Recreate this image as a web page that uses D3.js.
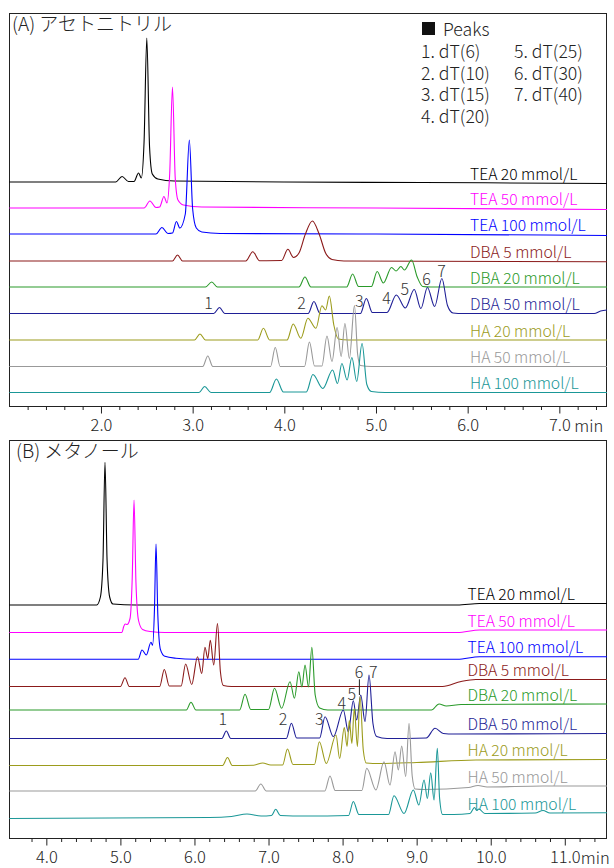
<!DOCTYPE html>
<html>
<head>
<meta charset="utf-8">
<script src="https://cdn.jsdelivr.net/npm/d3@7"></script>
<style>
  body { margin: 0; background: #fff; }
  text { font-family: "Noto Sans CJK JP", "Noto Sans", sans-serif; font-weight: 300; }
</style>
</head>
<body>
<div id="chart"></div>
<script>
// Chromatogram traces: [time (min), signal above own baseline]
// (A) acetonitrile
const aTEA20 = [[1.0,0],[2.16,0],[2.23,5.5],[2.3,0.5],[2.36,0.5],[2.41,9],[2.44,4],[2.47,40],[2.50,144],[2.53,35],[2.56,8],[2.62,3],[2.8,1],[4.0,0],[5.5,-0.5],[7.52,-1.5]];
const aTEA50 = [[1.0,0],[2.47,0],[2.534,7],[2.6,0.5],[2.64,1],[2.687,11.5],[2.72,5],[2.75,35],[2.78,121],[2.81,30],[2.84,8],[2.9,3],[3.1,1],[5.0,0],[7.52,-1.5]];
const aTEA100 = [[1.0,0],[2.6,0],[2.665,6.5],[2.73,0.5],[2.78,1],[2.823,12.5],[2.86,6],[2.92,20],[2.964,94],[3.0,25],[3.04,6],[3.1,2],[3.3,0.5],[5.0,0],[7.52,-1.5]];
const aDBA5 = [[1.0,0],[2.78,0],[2.835,6],[2.89,0],[3.58,0],[3.656,9.3],[3.73,0.3],[3.97,0.5],[4.039,11.7],[4.1,3.5],[4.16,8],[4.23,27],[4.306,40],[4.38,27],[4.45,8],[4.52,1.5],[4.65,0],[7.52,-0.7]];
const aDBA20 = [[1.0,0],[3.14,0],[3.208,5],[3.27,0],[4.16,0],[4.225,10],[4.29,0],[4.68,0],[4.745,13],[4.81,0.5],[4.95,0.5],[5.013,15.5],[5.08,4],[5.17,19.5],[5.22,16],[5.272,20.5],[5.31,17],[5.388,27],[5.45,10],[5.51,0.5],[5.6,0],[7.52,0]];
const aDBA50 = [[1.0,0],[3.23,0],[3.293,6],[3.35,0],[4.26,0],[4.323,12],[4.39,0],[4.83,0],[4.895,15],[4.96,1],[5.12,1],[5.222,18.5],[5.32,5.5],[5.417,24],[5.49,5],[5.561,26],[5.64,7],[5.719,35],[5.78,8],[5.84,0.5],[5.95,0],[7.38,0],[7.45,2.5],[7.52,3.5]];
const aHA20 = [[1.0,0],[3.02,0],[3.08,6],[3.14,0],[3.71,0],[3.772,11.7],[3.84,0],[4.03,0],[4.097,16],[4.18,1.7],[4.257,21.7],[4.345,11.7],[4.41,34.3],[4.45,30],[4.491,44],[4.54,15],[4.59,1],[4.7,0],[7.52,0]];
const aHA50 = [[1.0,0],[3.11,0],[3.165,10.5],[3.22,0],[3.85,0],[3.901,19],[3.955,0],[4.22,0],[4.274,24.5],[4.33,0.5],[4.41,0.5],[4.465,30.5],[4.52,5],[4.576,39],[4.62,10],[4.661,43],[4.71,8],[4.765,61],[4.8,12],[4.83,1],[4.95,0],[7.52,0]];
const aHA100 = [[1.0,0],[3.07,0],[3.131,6],[3.2,0],[3.84,0],[3.914,13.5],[3.99,0.5],[4.24,0.5],[4.312,18],[4.42,4],[4.527,22.5],[4.58,9],[4.628,29],[4.685,12.5],[4.737,35],[4.79,11],[4.848,49],[4.9,8],[4.95,1],[5.1,0],[7.52,0]];

// (B) methanol
const bTEA20 = [[3.5,0],[4.68,0],[4.73,8],[4.765,45],[4.792,142.7],[4.82,45],[4.855,8],[4.9,1],[5.2,0],[9.55,0],[9.85,1.5],[11.57,1.5]];
const bTEA50 = [[3.5,0],[5.02,0],[5.045,6],[5.065,8.5],[5.09,8],[5.13,14],[5.16,55],[5.184,132.5],[5.21,50],[5.245,12],[5.3,3],[5.4,1],[5.6,0],[9.55,0],[9.85,2.5],[11.57,2.5]];
const bTEA100 = [[3.5,0],[5.24,0],[5.292,9.3],[5.35,4.3],[5.413,17],[5.435,14],[5.46,50],[5.481,115.3],[5.505,45],[5.54,10],[5.6,3],[5.75,1],[6.0,0],[9.55,0],[9.85,2.6],[11.57,2.6]];
const bDBA5 = [[3.5,0],[5.0,0],[5.062,8.8],[5.12,0],[5.53,0],[5.593,17],[5.66,0.5],[5.82,0.5],[5.881,22.5],[5.963,2],[6.041,29.8],[6.098,13],[6.142,39.2],[6.18,28],[6.214,46.2],[6.26,21.5],[6.311,63],[6.35,15],[6.39,1],[6.5,0],[9.35,0],[9.6,5],[9.8,7],[11.57,7]];
const bDBA20 = [[3.5,0],[5.89,0],[5.953,7.7],[6.02,0],[6.61,0],[6.683,15.7],[6.76,0.5],[7.0,0.5],[7.081,21.7],[7.177,1.7],[7.29,28.3],[7.35,11.7],[7.409,38.3],[7.45,23],[7.493,45],[7.54,23],[7.585,62.7],[7.63,15],[7.69,2],[7.8,0],[9.2,0],[9.302,6],[9.4,4],[9.6,5.5],[11.57,6]];
const bDBA50 = [[3.5,0],[6.37,0],[6.43,7.5],[6.49,0],[7.24,0],[7.309,15.2],[7.38,0.5],[7.69,0.5],[7.763,21.8],[7.875,1.8],[8.01,28.5],[8.077,6.8],[8.145,37.8],[8.19,18.5],[8.245,43.5],[8.303,16.8],[8.357,63.5],[8.41,15],[8.46,2],[8.6,0],[9.13,0.5],[9.248,10.2],[9.36,5],[9.5,4.5],[11.57,5]];
const bHA20 = [[3.5,0],[6.38,0],[6.446,8],[6.51,0],[6.8,0.3],[6.922,2.5],[7.03,0.5],[7.19,0.5],[7.256,16.5],[7.33,1],[7.62,1],[7.686,23.8],[7.78,2],[7.911,30.5],[7.96,7],[8.023,38],[8.06,19],[8.091,45],[8.125,22],[8.158,57],[8.2,19],[8.235,69],[8.28,15],[8.32,2.5],[8.5,2],[9.0,3],[9.8,5.5],[11.57,6]];
const bHA50 = [[3.5,0],[6.82,0],[6.896,7],[6.97,0],[7.76,0],[7.83,15],[7.9,0.5],[8.26,0.5],[8.326,22.7],[8.45,1],[8.559,29.3],[8.64,6],[8.708,39.3],[8.753,21],[8.798,45],[8.852,14.3],[8.897,67.7],[8.94,15],[8.98,2],[9.1,1.5],[9.7,3.5],[9.829,5.5],[9.95,4],[10.7,5],[11.57,5]];
const bHA100 = [[3.5,0],[6.2,1],[6.5,2],[6.709,4.5],[6.9,2.5],[7.04,3],[7.097,9.2],[7.16,3],[7.5,2.5],[8.08,3],[8.145,17],[8.22,4],[8.62,4],[8.694,22.8],[8.83,5],[8.955,28.5],[9.03,13.5],[9.1,38.5],[9.145,20],[9.19,45.8],[9.235,18.5],[9.279,70.2],[9.31,20],[9.35,4],[9.5,4],[9.72,5],[9.781,11],[9.81,8],[9.84,9.5],[9.92,5],[10.6,5.5],[10.706,8],[10.8,5.5],[11.57,5.8]];

const traceNames = ["TEA 20 mmol/L", "TEA 50 mmol/L", "TEA 100 mmol/L", "DBA 5 mmol/L", "DBA 20 mmol/L",
                    "DBA 50 mmol/L", "HA 20 mmol/L", "HA 50 mmol/L", "HA 100 mmol/L"];
// stacking offsets of each trace (signal units)
const offsetsA = [225, 199, 173, 146, 120, 93.5, 67, 40.5, 14.5];
const offsetsB = [234, 206.5, 179.7, 152.5, 129, 100.5, 73.5, 48, 20.5];

// peak number annotations [label, time, signal]
const peakNumsA = [["1",3.173,105],["2",4.189,105.3],["3",4.817,107],["4",5.116,110.3],["5",5.315,118.7],["6",5.552,128.7],["7",5.716,137]];
const peakNumsB = [["1",6.381,120.7],["2",7.196,121],["3",7.686,120.7],["4",7.988,137.3],["5",8.123,145.7],["6",8.222,168.3],["7",8.415,168.3]];

const legendItems = ["1. dT(6)", "2. dT(10)", "3. dT(15)", "4. dT(20)", "5. dT(25)", "6. dT(30)", "7. dT(40)"];

const colors = ["#000000", "#ff00ff", "#0000ff", "#8b1a1a", "#2a9a2a", "#1f1f96", "#9c9c1c", "#999999", "#1a9797"];

const width = 614, height = 868;

const svg = d3.select("#chart").append("svg")
    .attr("width", width)
    .attr("height", height);

// trace level at time t (used only to seat the trace label on its line)
function levelAt(tr, t) {
    const i = d3.bisector(d => d[0]).right(tr, t);
    if (i <= 0) return tr[0][1];
    if (i >= tr.length) return tr[tr.length - 1][1];
    const a = tr[i - 1], b = tr[i];
    return a[1] + (b[1] - a[1]) * (t - a[0]) / (b[0] - a[0]);
}

function drawPanel(cfg) {
    const x = d3.scaleLinear().domain(cfg.xDomain).range([9.3, 607]);
    const y = d3.scaleLinear().domain(cfg.yDomain).range([cfg.bottom, cfg.top]);
    const g = svg.append("g");

    // frame
    g.append("rect")
        .attr("x", 9.5).attr("y", cfg.top + 0.5)
        .attr("width", 597).attr("height", cfg.bottom - cfg.top - 1)
        .attr("fill", "none").attr("stroke", "#222").attr("stroke-width", 1);

    // minor ticks
    g.append("g")
        .attr("transform", `translate(0, ${cfg.bottom - 0.5})`)
        .call(d3.axisBottom(x).tickValues(cfg.minor).tickSize(3.5).tickFormat(""))
        .call(a => a.select(".domain").remove())
        .call(a => a.selectAll("line").attr("stroke", "#222"));

    // major ticks + labels
    g.append("g")
        .attr("transform", `translate(0, ${cfg.bottom - 0.5})`)
        .call(d3.axisBottom(x).tickValues(cfg.major).tickSize(7).tickPadding(6).tickFormat(d3.format(".1f")))
        .call(a => a.select(".domain").remove())
        .call(a => a.selectAll("line").attr("stroke", "#222"))
        .call(a => a.selectAll("text").attr("font-size", 16.5).attr("font-weight", 300)
            .attr("font-family", "'Noto Sans CJK JP', 'Noto Sans', sans-serif").attr("fill", "#222"));

    const lastMajor = cfg.major[cfg.major.length - 1];
    g.append("text")
        .attr("x", x(lastMajor) + cfg.minGap)
        .attr("y", cfg.bottom + 25)
        .attr("font-size", 16.5).attr("fill", "#222")
        .text("min");

    // traces
    const line = d3.line()
        .x(d => x(d[0]))
        .curve(d3.curveMonotoneX);
    const labelT = x.invert(525);

    cfg.traces.forEach((tr, i) => {
        const off = cfg.offsets[i];
        g.append("path")
            .datum(tr)
            .attr("fill", "none")
            .attr("stroke", colors[i])
            .attr("stroke-width", 1.1)
            .attr("stroke-linejoin", "round")
            .attr("d", line.y(d => y(off + d[1])));

        g.append("text")
            .attr("x", cfg.labelX)
            .attr("y", y(off + levelAt(tr, labelT)) - 3.5)
            .attr("font-size", 15.7)
            .attr("fill", colors[i])
            .text(traceNames[i]);
    });

    // peak numbers
    g.selectAll(".pnum")
        .data(cfg.peakNums)
        .enter()
        .append("text")
        .attr("class", "pnum")
        .attr("x", d => x(d[1]))
        .attr("y", d => y(d[2]))
        .attr("text-anchor", "middle")
        .attr("dominant-baseline", "central")
        .attr("font-size", 16)
        .attr("fill", "#333")
        .text(d => d[0]);

    // title
    g.append("text")
        .attr("x", cfg.titleX)
        .attr("y", cfg.top + 18)
        .attr("font-size", 19)
        .attr("fill", "#222")
        .text(cfg.title);

    return { g, x, y };
}

const pA = drawPanel({
    top: 13, bottom: 407,
    xDomain: [1.0, 7.52], yDomain: [0, 394],
    minor: d3.range(12, 76, 2).filter(v => v % 10 !== 0).map(v => v / 10),
    major: [2, 3, 4, 5, 6, 7],
    minGap: 15,
    traces: [aTEA20, aTEA50, aTEA100, aDBA5, aDBA20, aDBA50, aHA20, aHA50, aHA100],
    offsets: offsetsA,
    labelX: 470,
    peakNums: peakNumsA,
    title: "(A) アセトニトリル",
    titleX: 12
});

const pB = drawPanel({
    top: 440, bottom: 839,
    xDomain: [3.5, 11.57], yDomain: [0, 399],
    minor: d3.range(38, 116, 2).filter(v => v % 10 !== 0).map(v => v / 10),
    major: [4, 5, 6, 7, 8, 9, 10, 11],
    minGap: 16,
    traces: [bTEA20, bTEA50, bTEA100, bDBA5, bDBA20, bDBA50, bHA20, bHA50, bHA100],
    offsets: offsetsB,
    labelX: 467.5,
    peakNums: peakNumsB,
    title: "(B) メタノール",
    titleX: 16
});

// leader line under peak label 6 in (B)
pB.g.append("line")
    .attr("x1", pB.x(8.227)).attr("x2", pB.x(8.227))
    .attr("y1", pB.y(159.7)).attr("y2", pB.y(144))
    .attr("stroke", "#222").attr("stroke-width", 1);

// legend of peaks in (A)
const legend = svg.append("g").attr("id", "legend");
legend.append("rect")
    .attr("x", 422).attr("y", 22)
    .attr("width", 13).attr("height", 13)
    .attr("fill", "#111");
legend.append("text")
    .attr("x", 443).attr("y", 35.5)
    .attr("font-size", 17.7).attr("fill", "#222")
    .text("Peaks");
legend.selectAll(".item")
    .data(legendItems)
    .enter()
    .append("text")
    .attr("class", "item")
    .attr("x", (d, i) => i < 4 ? 421 : 514)
    .attr("y", (d, i) => 58 + (i % 4) * 21.7)
    .attr("font-size", 17.7)
    .attr("fill", "#222")
    .text(d => d);
</script>
</body>
</html>
